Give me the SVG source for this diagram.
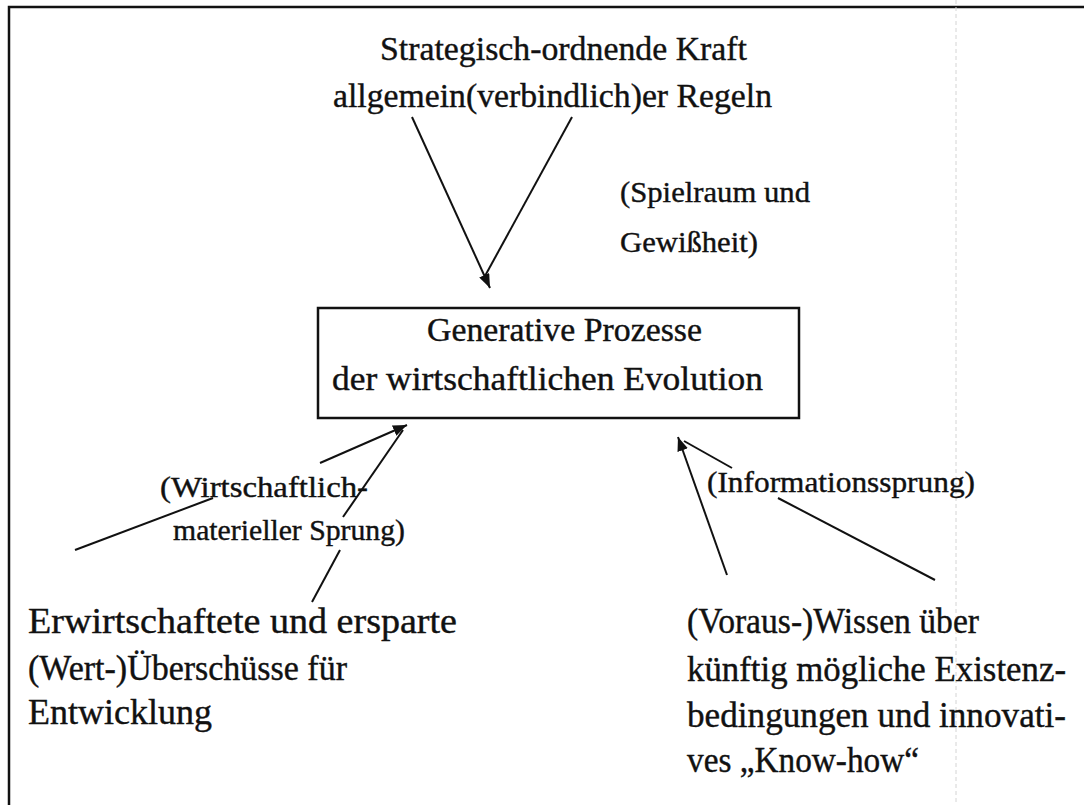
<svg xmlns="http://www.w3.org/2000/svg" width="1084" height="805" viewBox="0 0 1084 805">
<style>
text{font-family:"Liberation Serif","DejaVu Serif",serif;fill:#111;stroke:#111;stroke-width:0.4;}
.t1{font-size:34px;}
.lb{font-size:30px;}
.bt{font-size:36px;}
.ln{stroke:#111;stroke-width:2;fill:none;}
</style>
<defs>
<marker id="ah" viewBox="0 0 14 11" refX="14" refY="5.5" markerWidth="14" markerHeight="11" markerUnits="userSpaceOnUse" orient="auto">
<path d="M0,0 L14,5.5 L0,11 z" fill="#111"/>
</marker>
</defs>
<rect x="0" y="0" width="1084" height="805" fill="#fff"/>
<path d="M9,805 V7 H1084" fill="none" stroke="#111" stroke-width="2.5"/>
<line x1="956" y1="0" x2="956" y2="805" stroke="#d4d4d4" stroke-width="1" stroke-dasharray="4 3"/>

<g id="top-node">
<text class="t1" x="380" y="60" textLength="367" lengthAdjust="spacingAndGlyphs">Strategisch-ordnende Kraft</text>
<text class="t1" x="333" y="107" textLength="439" lengthAdjust="spacingAndGlyphs">allgemein(verbindlich)er Regeln</text>
</g>

<g id="label-spielraum">
<text class="lb" x="620" y="202" textLength="190" lengthAdjust="spacingAndGlyphs">(Spielraum und</text>
<text class="lb" x="620" y="252" textLength="138" lengthAdjust="spacingAndGlyphs">Gewißheit)</text>
</g>

<g id="center-node">
<rect x="318" y="308" width="481" height="110" fill="none" stroke="#111" stroke-width="2.5"/>
<text class="t1" x="427" y="341" textLength="275" lengthAdjust="spacingAndGlyphs">Generative Prozesse</text>
<text class="t1" x="332" y="390" textLength="431" lengthAdjust="spacingAndGlyphs">der wirtschaftlichen Evolution</text>
</g>

<g id="label-wirtschaftlich">
<text class="lb" x="160" y="497" textLength="208" lengthAdjust="spacingAndGlyphs">(Wirtschaftlich-</text>
<text class="lb" x="173" y="540" textLength="232" lengthAdjust="spacingAndGlyphs">materieller Sprung)</text>
</g>

<g id="left-node">
<text class="bt" x="28" y="633" textLength="429" lengthAdjust="spacingAndGlyphs">Erwirtschaftete und ersparte</text>
<text class="bt" x="28" y="680" textLength="319" lengthAdjust="spacingAndGlyphs">(Wert-)Überschüsse für</text>
<text class="bt" x="28" y="724" textLength="184" lengthAdjust="spacingAndGlyphs">Entwicklung</text>
</g>

<g id="label-information">
<text class="lb" x="707" y="492" textLength="268" lengthAdjust="spacingAndGlyphs">(Informationssprung)</text>
</g>

<g id="right-node">
<text class="bt" x="687" y="633" textLength="292" lengthAdjust="spacingAndGlyphs">(Voraus-)Wissen über</text>
<text class="bt" x="687" y="681" textLength="379" lengthAdjust="spacingAndGlyphs">künftig mögliche Existenz-</text>
<text class="bt" x="687" y="727" textLength="379" lengthAdjust="spacingAndGlyphs">bedingungen und innovati-</text>
<text class="bt" x="687" y="772" textLength="232" lengthAdjust="spacingAndGlyphs">ves „Know-how“</text>
</g>

<g id="connectors">
<line class="ln" x1="412" y1="117" x2="490" y2="288" marker-end="url(#ah)"/>
<line class="ln" x1="572" y1="117" x2="485" y2="276"/>

<line class="ln" x1="320" y1="463" x2="407" y2="425" marker-end="url(#ah)"/>
<line class="ln" x1="75" y1="550" x2="213" y2="498"/>
<line class="ln" x1="343" y1="517" x2="403" y2="430"/>
<line class="ln" x1="340" y1="550" x2="312" y2="602"/>

<line class="ln" x1="727" y1="575" x2="678" y2="437" marker-end="url(#ah)"/>
<line class="ln" x1="732" y1="468" x2="684" y2="441"/>
<line class="ln" x1="778" y1="498" x2="935" y2="580"/>
</g>
</svg>
